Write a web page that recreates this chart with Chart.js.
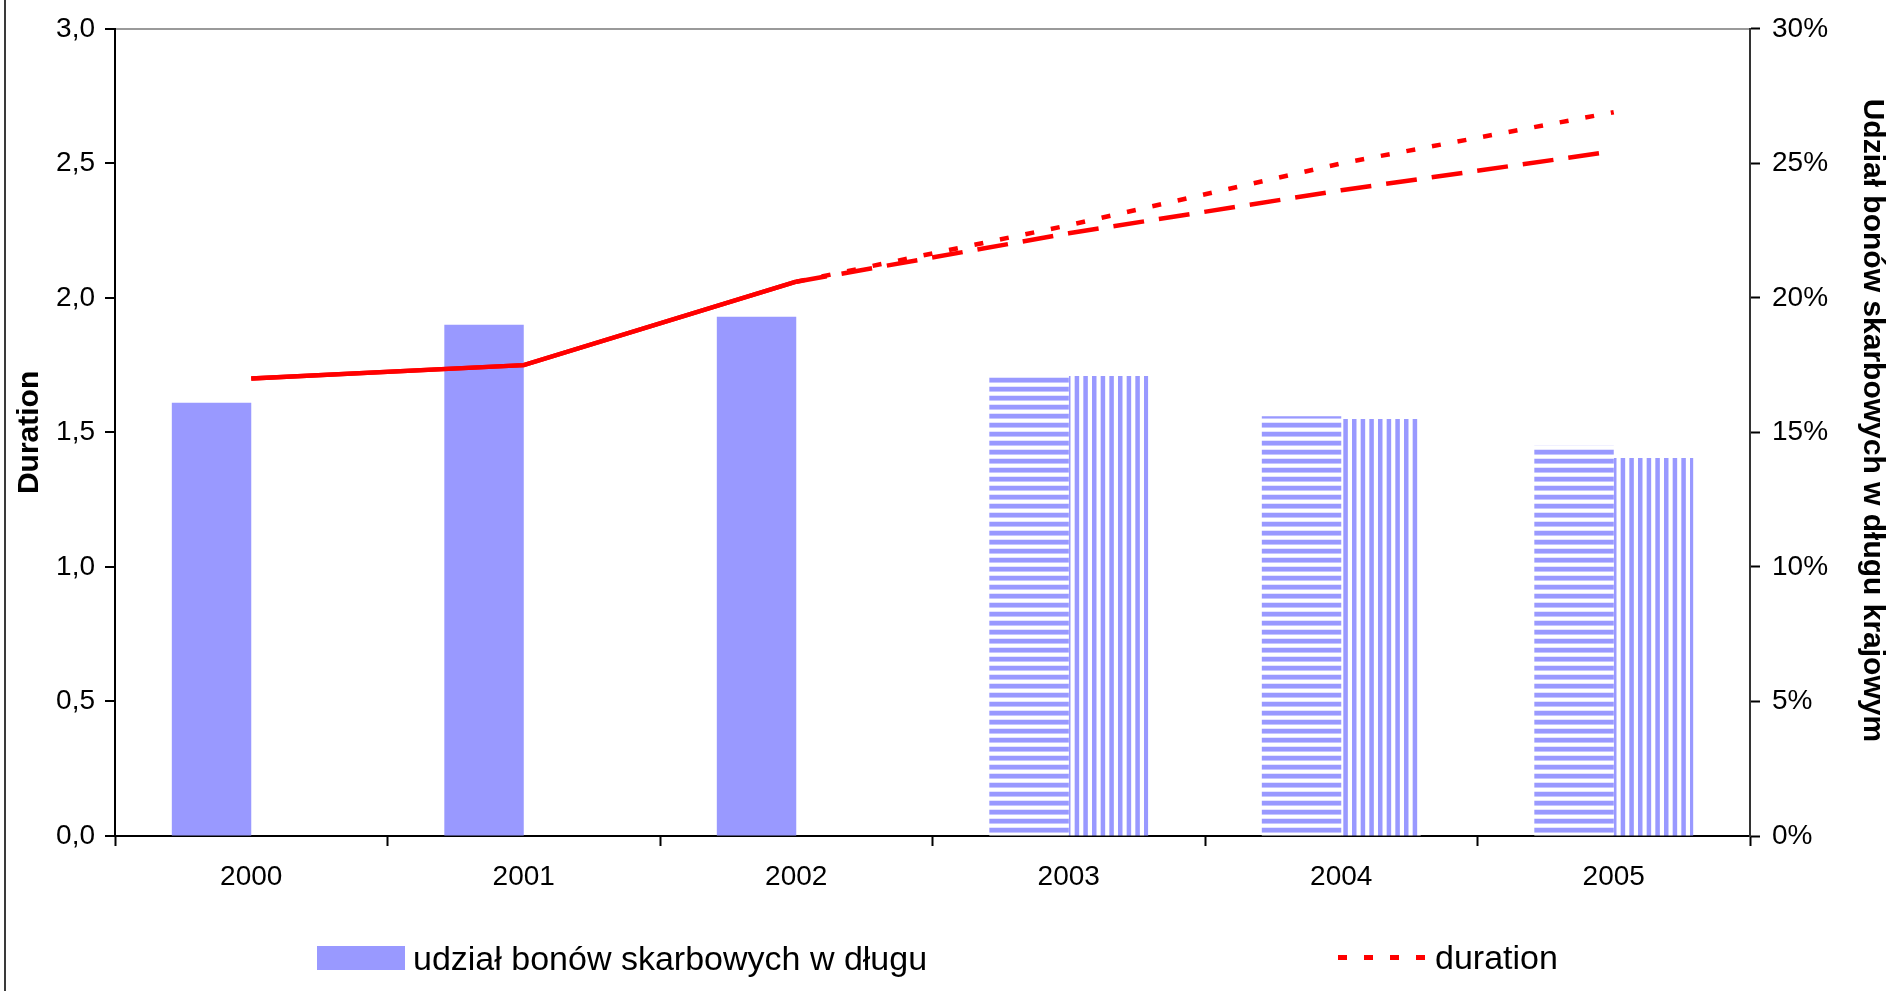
<!DOCTYPE html>
<html lang="pl">
<head>
<meta charset="utf-8">
<title>Duration i udział bonów skarbowych</title>
<script src="https://cdn.jsdelivr.net/npm/chart.js@4.4.1/dist/chart.umd.min.js"></script>
<style>
  html, body { margin: 0; padding: 0; background: #fff; }
  #wrap { position: relative; width: 1890px; height: 991px; overflow: hidden; }
  #c { position: absolute; left: 0; top: 0; }
  #frame { position: absolute; left: 4px; top: 0; width: 2px; height: 991px; background: #3a3a3a; }
  .legend-item {
    position: absolute; display: flex; align-items: center; height: 40px;
    font-family: "Liberation Sans", Arial, sans-serif; font-size: 34px; color: #000; white-space: nowrap;
  }
  .legend-item .swatch { width: 88px; height: 24px; margin-right: 8px; }
  .legend-item .dash { width: 87px; height: 5px; margin-right: 10px; }
</style>
</head>
<body>
<div id="wrap">
  <canvas id="c" width="1890" height="991"></canvas>
  <div id="frame"></div>
  <div id="legendBars" class="legend-item" style="left:317px; top:938px;"></div>
  <div id="legendLine" class="legend-item" style="left:1338px; top:937px;"></div>
</div>
<script>
// Years on the category axis
const years = ['2000', '2001', '2002', '2003', '2004', '2005'];
// Last year with reported (not projected) values
const lastActualIndex = 2;

// Share of treasury bills in domestic debt, % (2003-2005: two variants)
const billShare    = [16.1, 19.0, 19.3, 17.1, 15.6, 14.5];
const billShareAlt = [null, null, null, 17.1, 15.5, 14.05];

// Duration of domestic debt, years (two paths from 2002 onwards)
const durationMain = [1.70, 1.75, 2.06, 2.27, 2.50, 2.69];
const durationAlt  = [1.70, 1.75, 2.06, 2.24, 2.40, 2.545];

// Axis ranges
const durationRange = { min: 0, max: 3, step: 0.5 };
const shareRange    = { min: 0, max: 30, step: 5 };

const FONT = '"Liberation Sans", Arial, sans-serif';
const BAR = '#9999FF';
const RED = '#FF0000';
const RIGHT_TITLE = 'Udział bonów skarbowych w długu krajowym';

// Horizontal stripe fill
function horizontalStripes() {
  const c = document.createElement('canvas');
  c.width = 9; c.height = 9;
  const g = c.getContext('2d');
  g.fillStyle = '#fff'; g.fillRect(0, 0, 9, 9);
  g.fillStyle = BAR; g.fillRect(0, 0, 9, 4);
  g.fillStyle = '#C6C6FF'; g.fillRect(0, 4, 9, 1);
  g.fillStyle = '#E4E4FF'; g.fillRect(0, 8, 9, 1);
  return g.createPattern(c, 'repeat');
}

// Vertical stripe fill
function verticalStripes() {
  const c = document.createElement('canvas');
  c.width = 26; c.height = 4;
  const g = c.getContext('2d');
  g.fillStyle = '#fff'; g.fillRect(0, 0, 26, 4);
  g.fillStyle = BAR;
  for (let i = 0; i < 3; i++) g.fillRect(i * 26 / 3, 0, 4.5, 4);
  return g.createPattern(c, 'repeat');
}

const hPat = horizontalStripes();
const vPat = verticalStripes();

// Reported years are drawn solid, projections with the dataset's dash
const solidHistory = { borderDash: ctx => ctx.p1DataIndex <= lastActualIndex ? [] : undefined };

const datasets = [
  {
    type: 'line', label: 'duration', data: durationMain, yAxisID: 'y',
    borderColor: RED, borderWidth: 4.5, borderDash: [9, 17], borderCapStyle: 'butt',
    segment: solidHistory,
    pointRadius: 0, fill: false, tension: 0, order: 0
  },
  {
    type: 'line', label: 'duration (ścieżka alternatywna)', data: durationAlt, yAxisID: 'y',
    borderColor: RED, borderWidth: 4.5, borderDash: [31, 15], borderCapStyle: 'butt',
    segment: solidHistory,
    pointRadius: 0, fill: false, tension: 0, order: 0
  },
  {
    type: 'bar', label: 'udział bonów skarbowych w długu', data: billShare, yAxisID: 'y1',
    backgroundColor: billShare.map((v, i) => i <= lastActualIndex ? BAR : hPat), borderWidth: 0,
    categoryPercentage: 0.583, barPercentage: 1.0, order: 1
  },
  {
    type: 'bar', label: 'udział bonów skarbowych w długu (wariant)', data: billShareAlt, yAxisID: 'y1',
    backgroundColor: vPat, borderWidth: 0,
    categoryPercentage: 0.583, barPercentage: 1.0, order: 1
  }
];

const tickFont = { family: FONT, size: 28 };
const titleFont = { family: FONT, size: 30, weight: 'bold' };

// Right-hand axis title, set slightly above the axis midpoint
const rightAxisTitle = {
  id: 'rightAxisTitle',
  afterDraw(chart) {
    const s = chart.scales.y1;
    const ctx = chart.ctx;
    ctx.save();
    ctx.translate(s.right - 18, (s.top + s.bottom) / 2 - 12);
    ctx.rotate(Math.PI / 2);
    ctx.font = 'bold ' + titleFont.size + 'px ' + FONT;
    ctx.fillStyle = '#000';
    ctx.textAlign = 'center';
    ctx.textBaseline = 'middle';
    ctx.fillText(RIGHT_TITLE, 0, 0);
    ctx.restore();
  }
};

new Chart(document.getElementById('c'), {
  type: 'bar',
  data: { labels: years, datasets },
  plugins: [rightAxisTitle],
  options: {
    responsive: false,
    animation: false,
    layout: { padding: { left: 8, right: 0, top: 27, bottom: 85 } },
    plugins: { legend: { display: false }, tooltip: { enabled: false } },
    scales: {
      x: {
        type: 'category', offset: true,
        grid: { offset: true, drawOnChartArea: false, tickLength: 10, tickColor: '#000', tickWidth: 2 },
        border: { color: '#000', width: 2 },
        ticks: { font: tickFont, color: '#000', padding: 14, maxRotation: 0 },
        afterFit: s => { s.height = 70; }
      },
      y: {
        position: 'left', min: durationRange.min, max: durationRange.max,
        ticks: {
          stepSize: durationRange.step, font: tickFont, color: '#000', padding: 10,
          callback: v => v.toFixed(1).replace('.', ',')
        },
        grid: {
          drawOnChartArea: true, lineWidth: 2,
          color: c => (c.tick && c.tick.value === durationRange.max) ? '#9a9a9a' : 'rgba(0,0,0,0)',
          tickColor: '#000', tickLength: 10, tickWidth: 2
        },
        border: { color: '#000', width: 2 },
        title: { display: true, text: 'Duration', font: titleFont, color: '#000', padding: { top: 4, bottom: 4 } },
        afterFit: s => { s.width = 107; }
      },
      y1: {
        position: 'right', min: shareRange.min, max: shareRange.max,
        ticks: { stepSize: shareRange.step, font: tickFont, color: '#000', padding: 12, callback: v => v + '%' },
        grid: { drawOnChartArea: false, tickColor: '#000', tickLength: 10, tickWidth: 2 },
        border: { color: '#333', width: 2 },
        afterFit: s => { s.width = 140; }
      }
    }
  }
});

// Legend built from the dataset definitions
const barSet = datasets[2];
const lineSet = datasets[0];
document.getElementById('legendBars').innerHTML =
  '<div class="swatch" style="background:' + BAR + '"></div><span>' + barSet.label + '</span>';
document.getElementById('legendLine').innerHTML =
  '<div class="dash" style="background:repeating-linear-gradient(to right,' + lineSet.borderColor +
  ' 0 ' + lineSet.borderDash[0] + 'px, transparent ' + lineSet.borderDash[0] + 'px ' +
  (lineSet.borderDash[0] + lineSet.borderDash[1]) + 'px)"></div><span>' + lineSet.label + '</span>';
</script>
</body>
</html>
